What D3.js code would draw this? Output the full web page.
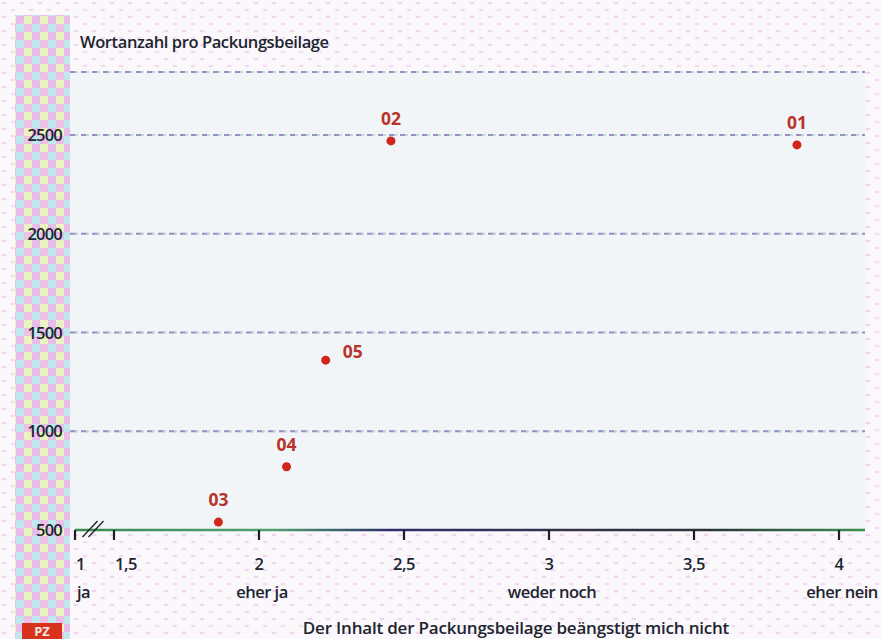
<!DOCTYPE html>
<html>
<head>
<meta charset="utf-8">
<script src="https://cdn.jsdelivr.net/npm/d3@7"></script>
<style>
  html, body { margin: 0; padding: 0; background: #fbf8fb; }
  svg { display: block; font-family: "Open Sans", "DejaVu Sans", sans-serif; }
</style>
</head>
<body>
<div id="chart"></div>
<script>
// Wortanzahl vs. "Der Inhalt der Packungsbeilage beängstigt mich nicht"
const ids     = ["01", "02", "03", "04", "05"];
const xValues = [3.855, 2.455, 1.86, 2.095, 2.23];
const yValues = [2450, 2470, 540, 820, 1360];

const xTicks      = [1, 1.5, 2, 2.5, 3, 3.5, 4];
const yTicks      = [500, 1000, 1500, 2000, 2500];
const categories  = [{ v: 1, label: "ja" }, { v: 2, label: "eher ja" }, { v: 3, label: "weder noch" }, { v: 4, label: "eher nein" }];

const width = 882, height = 639;
const plot = { left: 70, right: 865, top: 72, bottom: 530 };
const ink = "#1c2530";

const svg = d3.select("#chart").append("svg")
  .attr("width", width).attr("height", height);

const defs = svg.append("defs");

// page: faint pink halftone dots
const dots = defs.append("pattern").attr("id", "dots")
  .attr("width", 18).attr("height", 14).attr("patternUnits", "userSpaceOnUse");
dots.append("rect").attr("width", 18).attr("height", 14).attr("fill", "#fbf8fb");
dots.append("ellipse").attr("cx", 4).attr("cy", 3).attr("rx", 2.6).attr("ry", 1.3).attr("fill", "#f1d4f0");
dots.append("ellipse").attr("cx", 13).attr("cy", 10).attr("rx", 2.6).attr("ry", 1.3).attr("fill", "#f3dcf2");

// left strip: pink / yellow / cyan checker
const chk = defs.append("pattern").attr("id", "checker")
  .attr("width", 16).attr("height", 16).attr("patternUnits", "userSpaceOnUse");
chk.append("rect").attr("width", 16).attr("height", 16).attr("fill", "#cfeedc");
chk.append("rect").attr("width", 8).attr("height", 8).attr("fill", "#e4aee6");
chk.append("rect").attr("x", 8).attr("y", 8).attr("width", 8).attr("height", 8).attr("fill", "#e8b2e2");
chk.append("rect").attr("x", 8).attr("width", 8).attr("height", 8).attr("fill", "#e8f2b4");
chk.append("rect").attr("y", 8).attr("width", 8).attr("height", 8).attr("fill", "#b2e4ec");

svg.append("rect").attr("width", width).attr("height", height).attr("fill", "url(#dots)");
svg.append("rect").attr("x", 15).attr("y", 15).attr("width", 55).attr("height", height - 15)
  .attr("fill", "url(#checker)").attr("opacity", 0.8);
svg.append("rect").attr("x", plot.left).attr("y", plot.top)
  .attr("width", plot.right - plot.left).attr("height", plot.bottom - plot.top)
  .attr("fill", "#f1f5f8");

// scales: broken axis between 1 and 1.5
const x = d3.scaleLinear().domain([1, 1.5, 4]).range([75, 114, 839]);
const y = d3.scaleLinear().domain([500, 2500]).range([530, 135]);

const axisGrad = defs.append("linearGradient").attr("id", "axisGrad")
  .attr("gradientUnits", "userSpaceOnUse")
  .attr("x1", x(1)).attr("x2", plot.right).attr("y1", 0).attr("y2", 0);
[["0%", "#3a8a50"], ["25%", "#52a070"], ["40%", "#2c2e6a"], ["62%", "#35304a"], ["80%", "#2a3338"], ["100%", "#3c9050"]]
  .forEach(([o, c]) => axisGrad.append("stop").attr("offset", o).attr("stop-color", c));

// gridlines (dashed halftone look)
const gridY = [plot.top].concat(yTicks.filter(t => t > 500).map(y));
svg.append("g").selectAll("line").data(gridY).join("line")
  .attr("x1", plot.left).attr("x2", plot.right)
  .attr("y1", d => d).attr("y2", d => d)
  .attr("stroke", "#9a8cc4").attr("stroke-width", 2)
  .attr("stroke-dasharray", "7,4");
svg.append("g").selectAll("line").data(gridY).join("line")
  .attr("x1", plot.left + 5).attr("x2", plot.right)
  .attr("y1", d => d).attr("y2", d => d)
  .attr("stroke", "#b8dcd0").attr("stroke-width", 2)
  .attr("stroke-dasharray", "3,8");

// y labels
svg.append("g").selectAll("text").data(yTicks).join("text")
  .attr("x", 62).attr("y", d => y(d) + 6)
  .attr("text-anchor", "end")
  .attr("font-size", 16.5).attr("font-weight", 600).attr("fill", ink)
  .attr("letter-spacing", -0.8)
  .text(d => d);

// x axis line
svg.append("line")
  .attr("x1", x(1)).attr("x2", plot.right)
  .attr("y1", y(500)).attr("y2", y(500))
  .attr("stroke", "url(#axisGrad)").attr("stroke-width", 2.5);

// ticks
svg.append("g").selectAll("line").data(xTicks).join("line")
  .attr("x1", d => x(d)).attr("x2", d => x(d))
  .attr("y1", y(500)).attr("y2", y(500) + 10)
  .attr("stroke", "#1c2025").attr("stroke-width", 2.2);

// break marks
const bx = x(1.25);
svg.append("g").selectAll("line").data([-5, 1]).join("line")
  .attr("x1", d => bx + d - 7).attr("x2", d => bx + d + 8)
  .attr("y1", y(500) + 7).attr("y2", y(500) - 9)
  .attr("stroke", "#1c2025").attr("stroke-width", 1.3);

// tick labels
const fmt = d => String(d).replace(".", ",");
svg.append("g").selectAll("text").data(xTicks).join("text")
  .attr("x", d => d < 2 ? x(d) + 1 : x(d))
  .attr("y", 570)
  .attr("text-anchor", d => d < 2 ? "start" : "middle")
  .attr("font-size", 16.5).attr("font-weight", 600).attr("fill", ink)
  .attr("letter-spacing", -0.5)
  .text(fmt);

// category labels
svg.append("g").selectAll("text").data(categories).join("text")
  .attr("x", d => d.v === 1 ? x(d.v) + 2 : x(d.v) + 3)
  .attr("y", 598)
  .attr("text-anchor", d => d.v === 1 ? "start" : "middle")
  .attr("font-size", 16.5).attr("font-weight", 600).attr("fill", ink)
  .attr("letter-spacing", -0.5)
  .text(d => d.label);

// titles
svg.append("text").attr("x", 80).attr("y", 48)
  .attr("font-size", 16.5).attr("font-weight", 600).attr("fill", ink)
  .attr("letter-spacing", -0.4)
  .text("Wortanzahl pro Packungsbeilage");
svg.append("text").attr("x", 516).attr("y", 634).attr("text-anchor", "middle")
  .attr("font-size", 17).attr("font-weight", 600).attr("fill", ink)
  .attr("letter-spacing", -0.2)
  .text("Der Inhalt der Packungsbeilage beängstigt mich nicht");

// points
const pts = ids.map((id, i) => ({ id, x: xValues[i], y: yValues[i] }));
svg.append("g").selectAll("circle").data(pts).join("circle")
  .attr("cx", d => x(d.x)).attr("cy", d => y(d.y)).attr("r", 4.5)
  .attr("fill", "#d0261c");
svg.append("g").selectAll("text").data(pts).join("text")
  .attr("x", d => d.id === "05" ? x(d.x) + 17 : x(d.x))
  .attr("y", d => d.id === "05" ? y(d.y) - 2 : y(d.y) - 16)
  .attr("text-anchor", d => d.id === "05" ? "start" : "middle")
  .attr("font-size", 17.5).attr("font-weight", 700).attr("fill", "#b8342a")
  .text(d => d.id);

// PZ logo
svg.append("rect").attr("x", 22).attr("y", 623).attr("width", 40).attr("height", 16).attr("fill", "#d8321c");
svg.append("text").attr("x", 42).attr("y", 636).attr("text-anchor", "middle")
  .attr("font-size", 13).attr("font-weight", 700).attr("fill", "#f4e8e0")
  .text("PZ");
</script>
</body>
</html>
